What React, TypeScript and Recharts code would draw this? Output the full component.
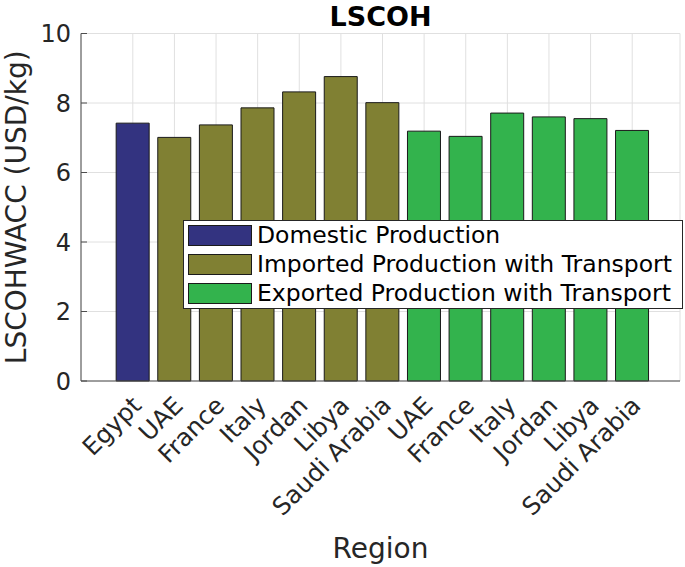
import React from "react";
import { BarChart, Bar, Cell, XAxis, YAxis, CartesianGrid, Legend } from "recharts";

const regions = [
  "Egypt", "UAE", "France", "Italy", "Jordan", "Libya", "Saudi Arabia",
  "UAE", "France", "Italy", "Jordan", "Libya", "Saudi Arabia",
];
const lscoh = [7.42, 7.01, 7.37, 7.86, 8.32, 8.76, 8.01, 7.19, 7.04, 7.71, 7.6, 7.55, 7.21];
const groupOf = [0, 1, 1, 1, 1, 1, 1, 2, 2, 2, 2, 2, 2];
const groupNames = [
  "Domestic Production",
  "Imported Production with Transport",
  "Exported Production with Transport",
];
const groupColors = ["#333380", "#808033", "#33b34d"];
const yTicks = [0, 2, 4, 6, 8, 10];

const data = regions.map((region, i) => ({ id: i, region, value: lscoh[i], group: groupOf[i] }));

const FONT = "DejaVu Sans, sans-serif";
const TEXT = "#262626";
const W = 685;
const H = 567;
const PLOT_LEFT = 81;
const PLOT_TOP = 33.5;
const PLOT_RIGHT = 680;
const PLOT_BOTTOM = 381;

// MATLAB style ticks point into the plot
function YTick({ x, y, payload }: any) {
  return (
    <g>
      <line x1={x} y1={y} x2={x + 6} y2={y} stroke="#4d4d4d" />
      <text x={x - 10} y={y} dy={8.5} textAnchor="end" fontSize={24} fontFamily={FONT} fill={TEXT}>
        {payload.value}
      </text>
    </g>
  );
}

function XTick({ x, y, payload }: any) {
  const tx = x + 10;
  const ty = y + 26;
  return (
    <text
      x={tx}
      y={ty}
      transform={`rotate(-45 ${tx} ${ty})`}
      textAnchor="end"
      fontSize={24.5}
      fontFamily={FONT}
      fill={TEXT}
    >
      {regions[payload.value]}
    </text>
  );
}

function LegendBox() {
  return (
    <div
      style={{
        border: "1px solid #262626",
        background: "#fff",
        padding: "0 4px",
        boxSizing: "border-box",
        width: 500,
      }}
    >
      {groupNames.map((name, i) => (
        <div key={name} style={{ display: "flex", alignItems: "center", height: 29 }}>
          <div
            style={{
              width: 64,
              height: 21,
              boxSizing: "border-box",
              background: groupColors[i],
              border: "1px solid #1a1a1a",
            }}
          />
          <span
            style={{
              marginLeft: 5,
              fontSize: 23.5,
              fontFamily: FONT,
              color: "#000",
              lineHeight: "29px",
              whiteSpace: "nowrap",
            }}
          >
            {name}
          </span>
        </div>
      ))}
    </div>
  );
}

export default function App() {
  const midX = (PLOT_LEFT + PLOT_RIGHT) / 2;
  const midY = (PLOT_TOP + PLOT_BOTTOM) / 2;
  return (
    <div style={{ position: "absolute", left: 0, top: 0, background: "#fff" }}>
      <BarChart
        width={W}
        height={H}
        data={data}
        margin={{ top: PLOT_TOP, right: W - PLOT_RIGHT, bottom: 0, left: 0 }}
        barCategoryGap="10%"
      >
        <CartesianGrid stroke="#e0e0e0" />
        <XAxis
          dataKey="id"
          type="category"
          height={H - PLOT_BOTTOM}
          padding={{ left: 31, right: 27 }}
          tick={<XTick />}
          tickLine={false}
          tickSize={0}
          tickMargin={0}
          interval={0}
          stroke="#4d4d4d"
        />
        <YAxis
          width={PLOT_LEFT}
          domain={[0, 10]}
          ticks={yTicks}
          tick={<YTick />}
          tickLine={false}
          tickSize={0}
          tickMargin={0}
          stroke="#4d4d4d"
        />
        <Legend
          layout="vertical"
          align="center"
          verticalAlign="middle"
          content={() => <LegendBox />}
          wrapperStyle={{ left: 183, top: 220, width: 500 }}
        />
        <Bar dataKey="value" stroke="#1a1a1a" strokeWidth={1} isAnimationActive={false}>
          {data.map((d) => (
            <Cell key={d.id} fill={groupColors[d.group]} />
          ))}
        </Bar>
        <text x={midX} y={25.5} textAnchor="middle" fontSize={27} fontWeight="bold" fontFamily={FONT} fill="#000">
          LSCOH
        </text>
        <text x={midX} y={558} textAnchor="middle" fontSize={28} fontFamily={FONT} fill={TEXT}>
          Region
        </text>
        <text
          x={26}
          y={midY}
          transform={`rotate(-90 26 ${midY})`}
          textAnchor="middle"
          fontSize={28}
          fontFamily={FONT}
          fill={TEXT}
        >
          LSCOHWACC (USD/kg)
        </text>
      </BarChart>
    </div>
  );
}
